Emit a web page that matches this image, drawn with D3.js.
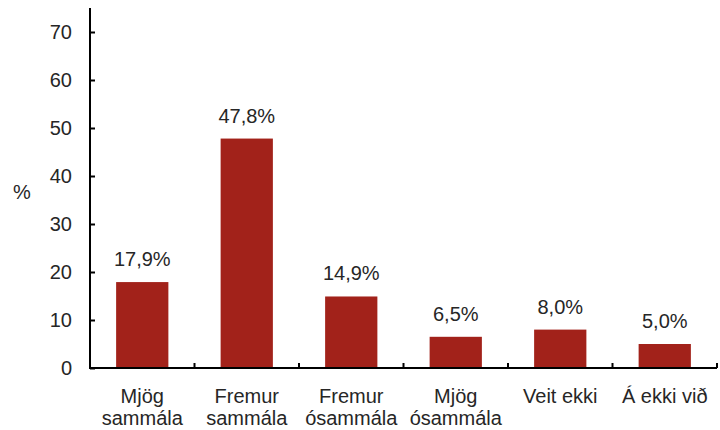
<!DOCTYPE html>
<html>
<head>
<meta charset="utf-8">
<script src="https://cdn.jsdelivr.net/npm/d3@7"></script>
<style>
  body { margin: 0; background: #fff; }
  text { font-family: Arial, "Liberation Sans", sans-serif; fill: #262626; }
</style>
</head>
<body>
<div id="chart"></div>
<script>
const categories = [['Mjög', 'sammála'], ['Fremur', 'sammála'], ['Fremur', 'ósammála'], ['Mjög', 'ósammála'], ['Veit ekki'], ['Á ekki við']];
const values = [17.9, 47.8, 14.9, 6.5, 8.0, 5.0];
const yTicks = [0, 10, 20, 30, 40, 50, 60, 70];

const margin = {top: 8, right: 3, bottom: 62, left: 90};
const width = 720 - margin.left - margin.right;
const height = 430 - margin.top - margin.bottom;

const svg = d3.select('#chart')
  .append('svg')
  .attr('width', 720)
  .attr('height', 430)
  .append('g')
  .attr('transform', `translate(${margin.left}, ${margin.top})`);

const x = d3.scaleBand()
  .domain(d3.range(values.length))
  .range([0, width])
  .paddingInner(0.5)
  .paddingOuter(0.25);
const y = d3.scaleLinear()
  .domain([0, 75])
  .range([height, 0]);

// bars
svg.selectAll('rect.bar')
  .data(values)
  .join('rect')
  .attr('class', 'bar')
  .attr('x', (d, i) => x(i))
  .attr('y', d => y(d))
  .attr('width', x.bandwidth())
  .attr('height', d => y(0) - y(d))
  .attr('fill', '#A2221A');

// value labels
const fmt = d => d.toFixed(1).replace('.', ',') + '%';
svg.selectAll('text.val')
  .data(values)
  .join('text')
  .attr('class', 'val')
  .attr('x', (d, i) => x(i) + x.bandwidth() / 2)
  .attr('y', d => y(d) - 16)
  .attr('text-anchor', 'middle')
  .attr('font-size', 20)
  .text(fmt);

// y axis
const gy = svg.append('g')
  .call(d3.axisLeft(y).tickValues(yTicks).tickSize(-5).tickPadding(18));
gy.select('.domain').attr('d', `M0,0V${height}`).attr('stroke', '#000').attr('stroke-width', 2);
gy.selectAll('.tick line').attr('stroke', '#000').attr('stroke-width', 2);
gy.selectAll('.tick text').attr('font-size', 20).attr('fill', '#262626');

// x axis
const bounds = d3.range(values.length + 1).map(i => i * width / values.length);
const gx = svg.append('g').attr('transform', `translate(0, ${height})`);
gx.append('line')
  .attr('x1', -1).attr('x2', width)
  .attr('stroke', '#000').attr('stroke-width', 2);
gx.selectAll('line.tk')
  .data(bounds.slice(1))
  .join('line')
  .attr('class', 'tk')
  .attr('x1', d => d).attr('x2', d => d)
  .attr('y1', 0).attr('y2', -5)
  .attr('stroke', '#000').attr('stroke-width', 2);
gx.selectAll('text.cat')
  .data(categories)
  .join('text')
  .attr('class', 'cat')
  .attr('text-anchor', 'middle')
  .attr('font-size', 20)
  .attr('transform', (d, i) => `translate(${x(i) + x.bandwidth() / 2}, 35)`)
  .selectAll('tspan')
  .data(d => d)
  .join('tspan')
  .attr('x', 0)
  .attr('dy', (d, i) => i === 0 ? 0 : 22)
  .text(d => d);

// y title
svg.append('text')
  .attr('x', -77)
  .attr('y', 191)
  .attr('font-size', 20)
  .text('%');
</script>
</body>
</html>
